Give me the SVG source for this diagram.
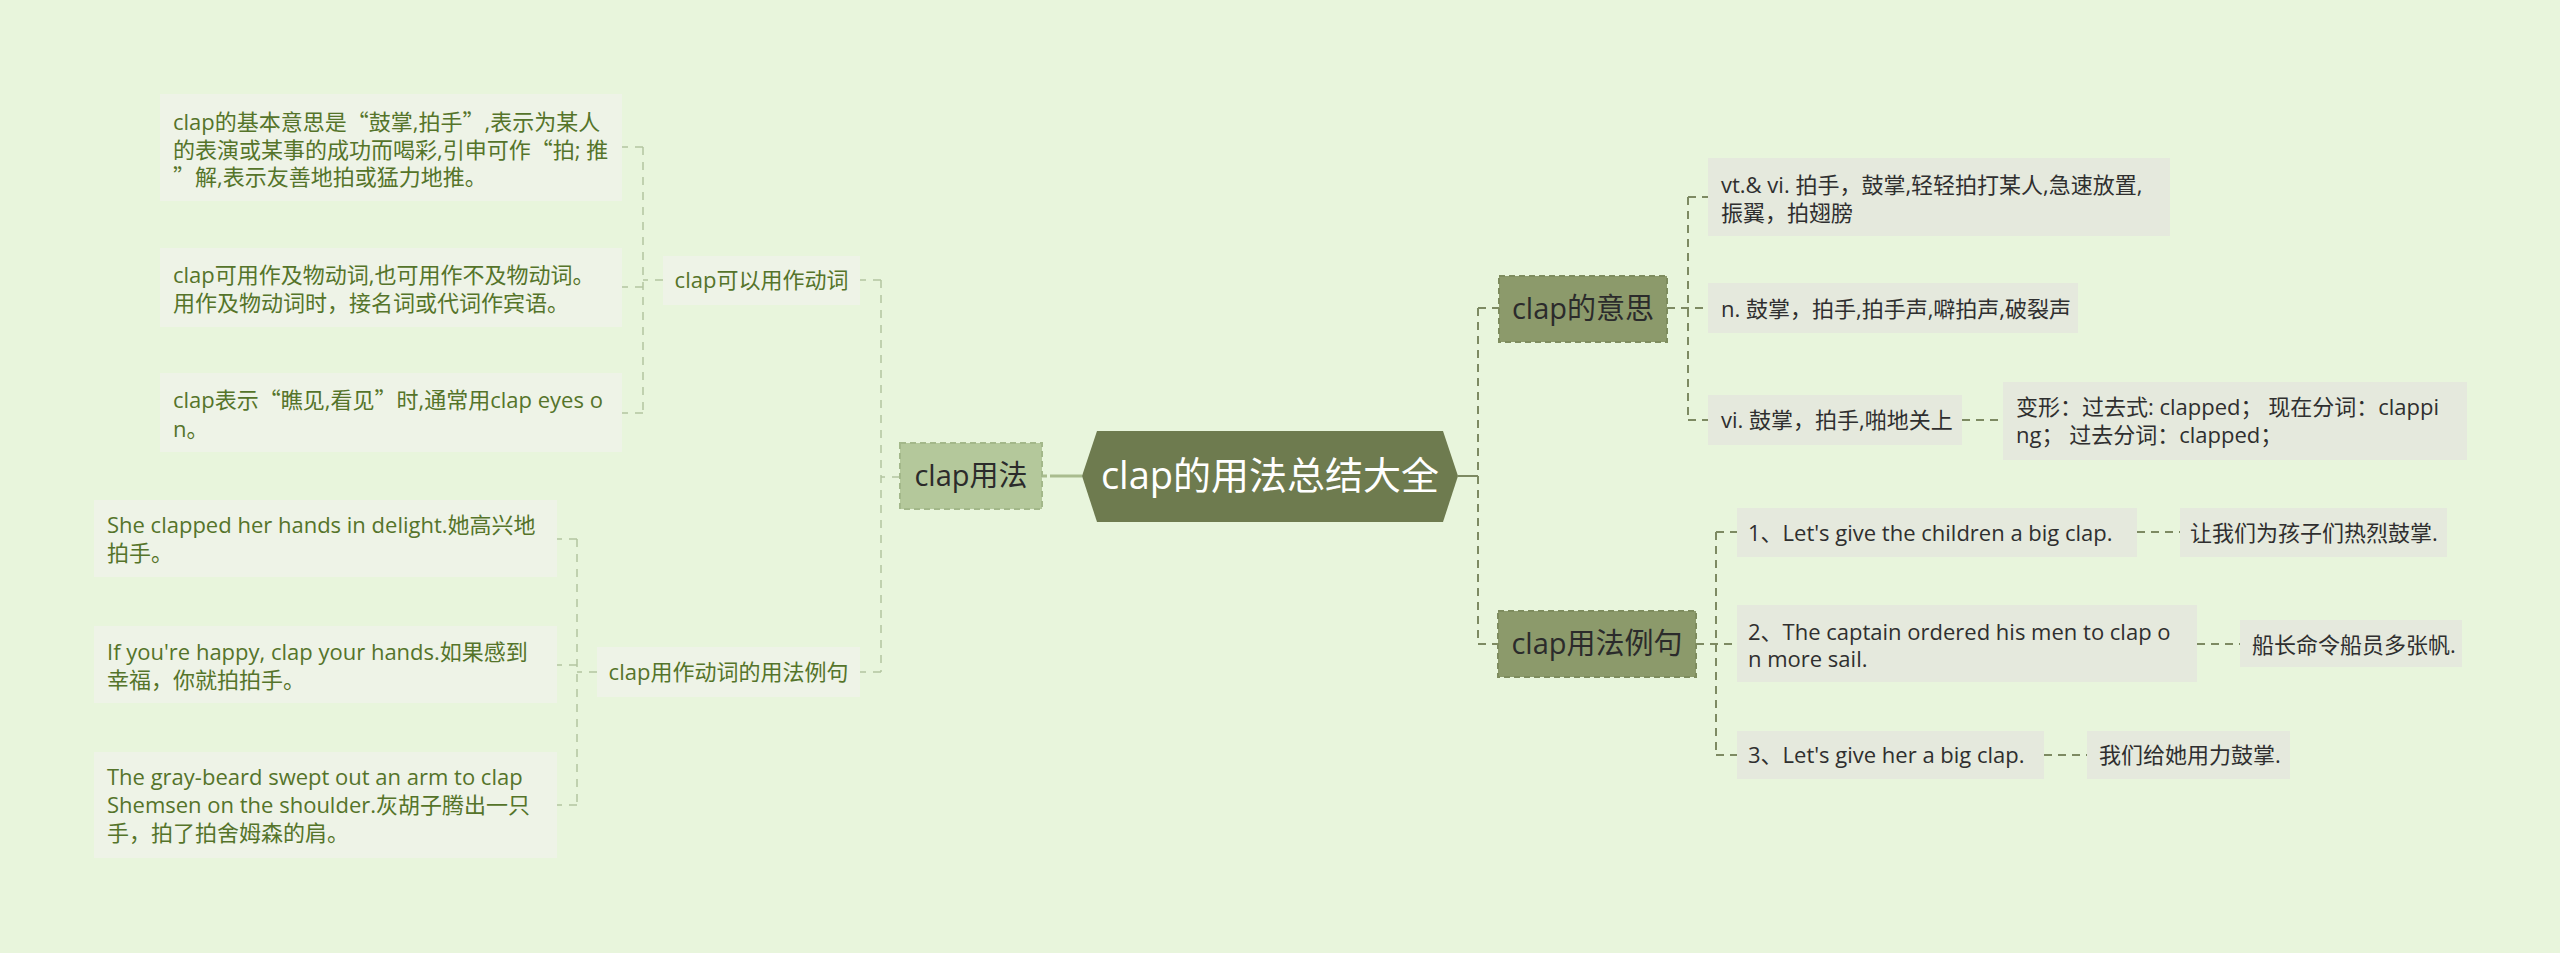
<svg xmlns="http://www.w3.org/2000/svg" width="2560" height="953" viewBox="0 0 2560 953">
<style>
text{font-family:"Open Sans","Noto Sans CJK SC",sans-serif;}
.q{font-family:"Noto Sans CJK SC",sans-serif;}
.lf{fill:#eef3e7;}
.lt{fill:#55742a;font-size:22px;}
.rf{fill:#e5e9dd;}
.rt{fill:#2f2f2f;font-size:22px;}
.big{font-size:29px;fill:#2b2b2b;}
.cl{fill:none;stroke:#b3c5a0;stroke-width:1.5;stroke-dasharray:8 7;}
.cr{fill:none;stroke:#7d8a62;stroke-width:2;stroke-dasharray:8 6;}
</style>
<rect width="2560" height="953" fill="#e8f5dc"/>
<g id="connectors">
<path d="M1050 476H1082" stroke="#a9bc8e" stroke-width="3" fill="none"/>
<path d="M1042 476H1047" stroke="#a9bc8e" stroke-width="3" fill="none"/>
<path class="cl" d="M900 477H881M881 280V672M881 280H860M881 672H860"/>
<path class="cl" d="M663 280H643M643 147V413M643 147H622M643 287H622M643 413H622"/>
<path class="cl" d="M597 672H577M577 539V805M577 539H557M577 665H557M577 805H557"/>
<path d="M1458 476H1478" stroke="#7d8a62" stroke-width="2" fill="none"/>
<path class="cr" d="M1478 308V644M1478 308H1499M1478 644H1498"/>
<path class="cr" d="M1667 308H1708M1688 197V420M1688 197H1708M1688 420H1708"/>
<path class="cr" d="M1962 420H2003"/>
<path class="cr" d="M1696 644H1737M1716 532V755M1716 532H1737M1716 755H1737"/>
<path class="cr" d="M2137 532H2180M2197 644H2240M2044 755H2087"/>
</g>
<g id="root">
<polygon points="1082,476 1097,431 1443,431 1458,476 1443,522 1097,522" fill="#6e7b4f"/>
<text x="1270" y="489" text-anchor="middle" font-size="38" fill="#ffffff">clap的用法总结大全</text>
</g>
<g id="n-usage">
<rect x="900" y="443" width="142" height="66" fill="#b4c89b" stroke="#a3b88a" stroke-width="2" stroke-dasharray="6 4"/>
<text class="big" x="971" y="486" text-anchor="middle">clap用法</text>
</g>
<g id="n-verb">
<rect class="lf" x="663" y="256" width="197" height="49"/>
<text class="lt" x="761.5" y="288" text-anchor="middle">clap可以用作动词</text>
</g>
<g id="n-verb-1">
<rect class="lf" x="160" y="94" width="462" height="107"/>
<text class="lt" x="173" y="130">clap的基本意思是<tspan class="q">“</tspan>鼓掌,拍手<tspan class="q">”</tspan>,表示为某人</text>
<text class="lt" x="173" y="158">的表演或某事的成功而喝彩,引申可作<tspan class="q">“</tspan>拍; 推</text>
<text class="lt" x="173" y="185"><tspan class="q">”</tspan>解,表示友善地拍或猛力地推。</text>
</g>
<g id="n-verb-2">
<rect class="lf" x="160" y="248" width="462" height="79"/>
<text class="lt" x="173" y="283">clap可用作及物动词,也可用作不及物动词。</text>
<text class="lt" x="173" y="311">用作及物动词时，接名词或代词作宾语。</text>
</g>
<g id="n-verb-3">
<rect class="lf" x="160" y="373" width="462" height="79"/>
<text class="lt" x="173" y="408">clap表示<tspan class="q">“</tspan>瞧见,看见<tspan class="q">”</tspan>时,通常用clap eyes o</text>
<text class="lt" x="173" y="437">n。</text>
</g>
<g id="n-examples">
<rect class="lf" x="597" y="647" width="263" height="50"/>
<text class="lt" x="728.5" y="680" text-anchor="middle">clap用作动词的用法例句</text>
</g>
<g id="n-ex-1">
<rect class="lf" x="94" y="500" width="463" height="77"/>
<text class="lt" x="107" y="533">She clapped her hands in delight.她高兴地</text>
<text class="lt" x="107" y="561">拍手。</text>
</g>
<g id="n-ex-2">
<rect class="lf" x="94" y="626" width="463" height="77"/>
<text class="lt" x="107" y="660">If you're happy, clap your hands.如果感到</text>
<text class="lt" x="107" y="688">幸福，你就拍拍手。</text>
</g>
<g id="n-ex-3">
<rect class="lf" x="94" y="752" width="463" height="106"/>
<text class="lt" x="107" y="785">The gray-beard swept out an arm to clap</text>
<text class="lt" x="107" y="813">Shemsen on the shoulder.灰胡子腾出一只</text>
<text class="lt" x="107" y="841">手，拍了拍舍姆森的肩。</text>
</g>
<g id="n-meaning">
<rect x="1499" y="276" width="168" height="66" fill="#8c9a6b" stroke="#7e8c5e" stroke-width="2" stroke-dasharray="6 4"/>
<text class="big" x="1583" y="319" text-anchor="middle">clap的意思</text>
</g>
<g id="n-meaning-1">
<rect class="rf" x="1708" y="158" width="462" height="78"/>
<text class="rt" x="1721" y="193">vt.&amp; vi. 拍手，鼓掌,轻轻拍打某人,急速放置,</text>
<text class="rt" x="1721" y="221">振翼，拍翅膀</text>
</g>
<g id="n-meaning-2">
<rect class="rf" x="1708" y="283" width="370" height="50"/>
<text class="rt" x="1721" y="317">n. 鼓掌，拍手,拍手声,噼拍声,破裂声</text>
</g>
<g id="n-meaning-3">
<rect class="rf" x="1708" y="395" width="254" height="50"/>
<text class="rt" x="1721" y="428">vi. 鼓掌，拍手,啪地关上</text>
</g>
<g id="n-forms">
<rect class="rf" x="2003" y="382" width="464" height="78"/>
<text class="rt" x="2016" y="415">变形：过去式: clapped； 现在分词：clappi</text>
<text class="rt" x="2016" y="443">ng； 过去分词：clapped；</text>
</g>
<g id="n-sentences">
<rect x="1498" y="611" width="198" height="66" fill="#8c9a6b" stroke="#7e8c5e" stroke-width="2" stroke-dasharray="6 4"/>
<text class="big" x="1597" y="654" text-anchor="middle">clap用法例句</text>
</g>
<g id="n-s1">
<rect class="rf" x="1737" y="508" width="400" height="49"/>
<text class="rt" x="1748" y="541">1、Let's give the children a big clap.</text>
</g>
<g id="n-s1-t">
<rect class="rf" x="2180" y="508" width="267" height="49"/>
<text class="rt" x="2190" y="541">让我们为孩子们热烈鼓掌.</text>
</g>
<g id="n-s2">
<rect class="rf" x="1737" y="605" width="460" height="77"/>
<text class="rt" x="1748" y="640">2、The captain ordered his men to clap o</text>
<text class="rt" x="1748" y="667">n more sail.</text>
</g>
<g id="n-s2-t">
<rect class="rf" x="2240" y="620" width="222" height="47"/>
<text class="rt" x="2252" y="653">船长命令船员多张帆.</text>
</g>
<g id="n-s3">
<rect class="rf" x="1737" y="731" width="307" height="48"/>
<text class="rt" x="1748" y="763">3、Let's give her a big clap.</text>
</g>
<g id="n-s3-t">
<rect class="rf" x="2087" y="731" width="203" height="48"/>
<text class="rt" x="2099" y="763">我们给她用力鼓掌.</text>
</g>
</svg>
